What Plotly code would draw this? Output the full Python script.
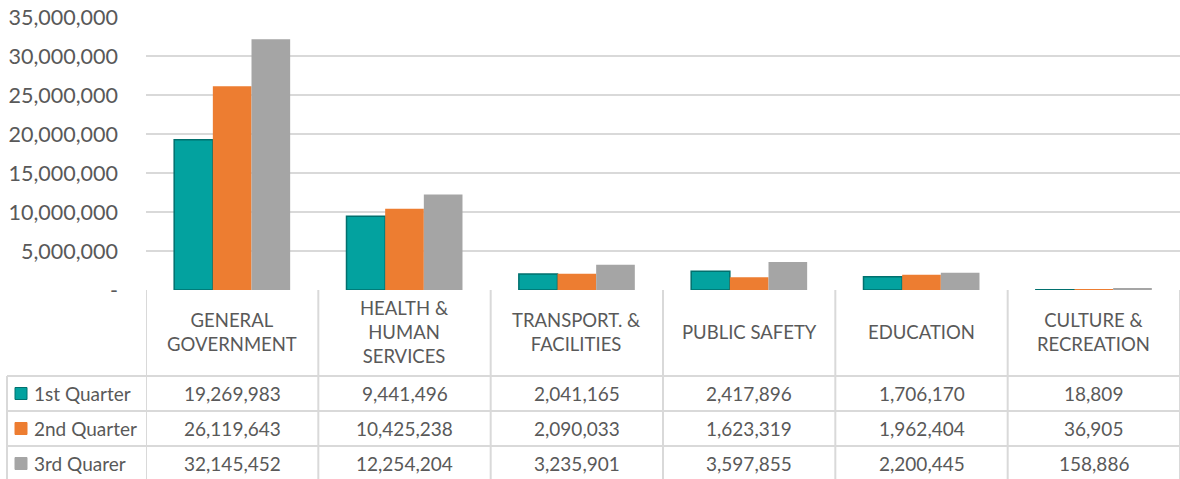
import plotly.graph_objects as go

# chart data
categories = ["GENERAL GOVERNMENT", "HEALTH & HUMAN SERVICES", "TRANSPORT. & FACILITIES",
              "PUBLIC SAFETY", "EDUCATION", "CULTURE & RECREATION"]
header_labels = ["GENERAL<br>GOVERNMENT", "HEALTH &<br>HUMAN<br>SERVICES", "TRANSPORT. &<br>FACILITIES",
                 "PUBLIC SAFETY", "EDUCATION", "CULTURE &<br>RECREATION"]
series_names = ["1st Quarter", "2nd Quarter", "3rd Quarer"]
q1 = [19269983, 9441496, 2041165, 2417896, 1706170, 18809]
q2 = [26119643, 10425238, 2090033, 1623319, 1962404, 36905]
q3 = [32145452, 12254204, 3235901, 3597855, 2200445, 158886]
y_tickvals = [0, 5000000, 10000000, 15000000, 20000000, 25000000, 30000000, 35000000]
y_ticktext = ["-", "5,000,000", "10,000,000", "15,000,000", "20,000,000",
              "25,000,000", "30,000,000", "35,000,000"]

colors = ["#03A29F", "#ED7D31", "#A5A5A5"]
line_colors = ["#01706E", "#ED7D31", "#A5A5A5"]
line_widths = [1.5, 0, 0]
TXT = "#595959"
GRID = "#D9D9D9"
FONT = "Lato, 'Open Sans', sans-serif"

W, H = 1180, 479


def px(x):
    return x / W


def py(y):
    return 1 - y / H


fig = go.Figure()
for name, vals, c, lc, lw in zip(series_names, [q1, q2, q3], colors, line_colors, line_widths):
    fig.add_trace(go.Bar(x=categories, y=vals, name=name,
                         marker=dict(color=c, line=dict(color=lc, width=lw))))

shapes = []
annotations = []

# table vertical lines at category boundaries
for i in range(len(categories) + 1):
    shapes.append(dict(type="line", xref="x", yref="paper", x0=i - 0.5, x1=i - 0.5,
                       y0=py(290), y1=py(479), line=dict(color=GRID, width=2)))
# legend column left border
shapes.append(dict(type="line", xref="paper", yref="paper", x0=px(7), x1=px(7),
                   y0=py(376), y1=py(479), line=dict(color=GRID, width=2)))
# row separators
for yy in [376, 411, 446]:
    shapes.append(dict(type="line", xref="paper", yref="paper", x0=px(7), x1=1,
                       y0=py(yy), y1=py(yy), line=dict(color=GRID, width=2)))

# header labels
for cat, lab in zip(categories, header_labels):
    annotations.append(dict(xref="x", yref="paper", x=cat, y=py(332), text=lab,
                            showarrow=False, font=dict(size=18.5, color=TXT, family=FONT),
                            xanchor="center", yanchor="middle"))

# data rows
row_centers = [393.5, 428.5, 463.5]
for name, vals, c, lc, yc in zip(series_names, [q1, q2, q3], colors, line_colors, row_centers):
    shapes.append(dict(type="rect", xref="paper", yref="paper", x0=px(15), x1=px(27),
                       y0=py(yc + 6), y1=py(yc - 6), fillcolor=c,
                       line=dict(color=lc, width=1)))
    annotations.append(dict(xref="paper", yref="paper", x=px(32), y=py(yc), text=name,
                            showarrow=False, font=dict(size=19, color=TXT, family=FONT),
                            xanchor="left", yanchor="middle"))
    for cat, v in zip(categories, vals):
        annotations.append(dict(xref="x", yref="paper", x=cat, y=py(yc), text=f"{v:,}",
                                showarrow=False, font=dict(size=19, color=TXT, family=FONT),
                                xanchor="center", yanchor="middle"))

fig.update_layout(
    width=W, height=H,
    margin=dict(l=0, r=0, t=0, b=0, autoexpand=False),
    paper_bgcolor="white", plot_bgcolor="white",
    barmode="group", bargap=0.327, bargroupgap=0,
    showlegend=False,
    font=dict(family=FONT, color=TXT, size=18),
    xaxis=dict(domain=[px(146), 1], range=[-0.5, 5.5], showticklabels=False,
               showgrid=False, zeroline=False, showline=False, fixedrange=True,
               automargin=False),
    yaxis=dict(domain=[py(290), py(17)], range=[0, 35000000], tickvals=y_tickvals,
               ticktext=y_ticktext, showgrid=True, gridcolor=GRID, gridwidth=2,
               zeroline=False, showline=False, ticklabelstandoff=27, automargin=False,
               tickfont=dict(size=21.5, color=TXT, family=FONT)),
    shapes=shapes,
    annotations=annotations,
    hovermode=False,
)

# drop the browser's default page margin so the figure sits at the window origin
fig.write_html("out.html", config={"displayModeBar": False},
               post_script="document.body.style.margin='0';document.body.style.overflow='hidden';")
